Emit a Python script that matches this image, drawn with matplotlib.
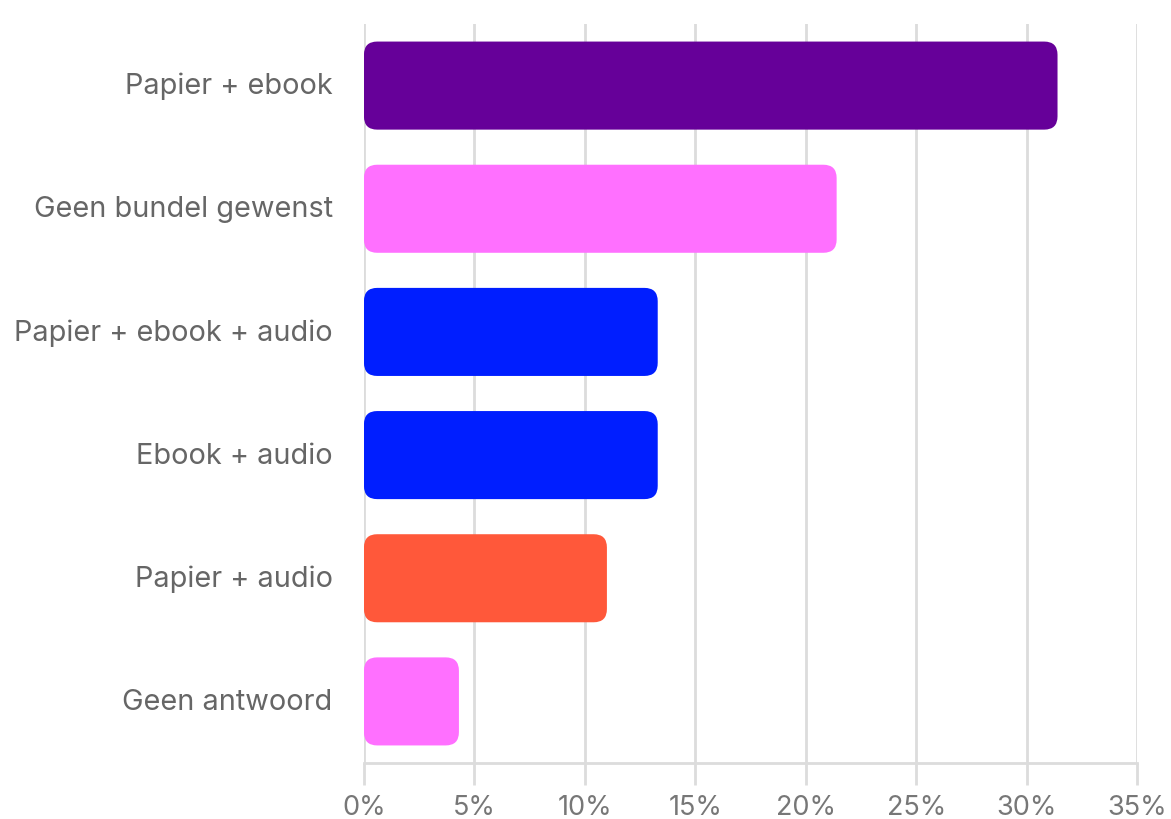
import matplotlib
matplotlib.use("Agg")
import matplotlib.pyplot as plt
import matplotlib.transforms as mtransforms
from matplotlib.patches import FancyBboxPatch
from matplotlib.ticker import FuncFormatter

categories = ['Papier + ebook', 'Geen bundel gewenst', 'Papier + ebook + audio',
              'Ebook + audio', 'Papier + audio', 'Geen antwoord']
values = [31.4, 21.4, 13.3, 13.3, 11.0, 4.3]
colors = ['#660099', '#ff70ff', '#001eff', '#001eff', '#ff583a', '#ff70ff']
xticks = [0, 5, 10, 15, 20, 25, 30, 35]

plt.rcParams['font.family'] = ['Inter', 'DejaVu Sans']

fig = plt.figure(figsize=(11.71, 8.2), dpi=100)
ax = fig.add_axes([0.3108, 0.0683, 0.9710 - 0.3108, 0.9695 - 0.0683])

ax.set_xlim(0, 35)
ax.set_ylim(len(categories) - 0.5, -0.5)

# rounded bars: radius in x units, aspect corrects for y scaling
bar_h = 0.715
aspect = (6 / 739.0) / (35 / 773.0)
for i, (v, c) in enumerate(zip(values, colors)):
    p = FancyBboxPatch((0, i - bar_h / 2), v, bar_h,
                       boxstyle='round,pad=0,rounding_size=0.6',
                       mutation_aspect=aspect,
                       facecolor=c, edgecolor='none', zorder=3)
    ax.add_patch(p)

ax.set_yticks(range(len(categories)))
ax.set_yticklabels(categories)
ax.set_xticks(xticks)
ax.xaxis.set_major_formatter(FuncFormatter(lambda x, pos: f'{int(x)}%'))

ax.grid(axis='x', color='#dcdcdc', linewidth=2, zorder=0)
ax.tick_params(axis='y', length=0, pad=22.5, labelsize=20.8, labelcolor='#666666')
ax.tick_params(axis='x', length=16, width=2, color='#dcdcdc', pad=6,
               labelsize=19.5, labelcolor='#777777')

# labels sit a little above bar centre in the original
shift = mtransforms.ScaledTranslation(0, 3 / 100, fig.dpi_scale_trans)
for lbl in ax.get_yticklabels():
    lbl.set_transform(lbl.get_transform() + shift)

for s in ['top', 'right', 'left']:
    ax.spines[s].set_visible(False)
ax.spines['bottom'].set_color('#dcdcdc')
ax.spines['bottom'].set_linewidth(2)

fig.savefig('out.png', dpi=100)
